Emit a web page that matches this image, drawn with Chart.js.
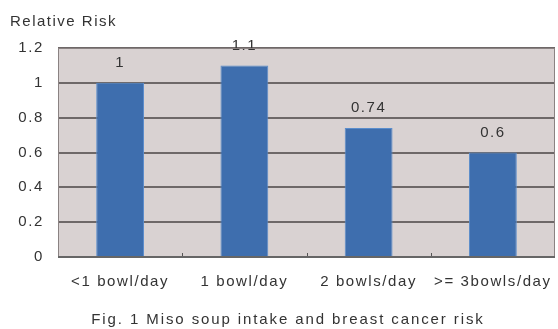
<!DOCTYPE html>
<html>
<head>
<meta charset="utf-8">
<script src="https://cdn.jsdelivr.net/npm/chart.js@4/dist/chart.umd.min.js"></script>
<style>
html,body{margin:0;padding:0;background:#fff;}
#wrap{position:relative;width:558px;height:329px;}
canvas{display:block;}
</style>
</head>
<body>
<div id="wrap"><canvas id="c" width="558" height="329"></canvas></div>
<script>
const categories = ["<1 bowl/day", "1 bowl/day", "2 bowls/day", ">= 3bowls/day"];
const relativeRisk = [1, 1.1, 0.74, 0.6];
const valueLabels = ["1", "1.1", "0.74", "0.6"];
const yAxisTitle = "Relative Risk";
const caption = "Fig. 1 Miso soup intake and breast cancer risk";

const FONT = "'Liberation Sans', Arial, sans-serif";
const TEXT = "#333333";

const decor = {
  id: 'decor',
  beforeDraw(chart) {
    const {ctx, chartArea: a} = chart;
    ctx.save();
    ctx.fillStyle = '#fff';
    ctx.fillRect(0, 0, chart.width, chart.height);
    ctx.fillStyle = '#d9d2d2';
    ctx.fillRect(a.left, a.top, a.right - a.left, a.bottom - a.top);
    ctx.restore();
    ctx.letterSpacing = '1.6px';
  },
  afterDatasetsDraw(chart) {
    const {ctx, chartArea: a} = chart;
    const meta = chart.getDatasetMeta(0);
    ctx.save();
    ctx.letterSpacing = '1.5px';
    ctx.font = "15px " + FONT;
    ctx.fillStyle = TEXT;
    ctx.textAlign = 'center';
    ctx.textBaseline = 'middle';
    meta.data.forEach((bar, i) => {
      ctx.fillText(valueLabels[i], bar.x, bar.y - 20);
    });
    // small ticks between categories on the baseline
    const xs = chart.scales.x;
    ctx.strokeStyle = '#555';
    ctx.lineWidth = 1;
    for (let i = 1; i < categories.length; i++) {
      const x = Math.round((xs.getPixelForValue(i - 1) + xs.getPixelForValue(i)) / 2) + 0.5;
      ctx.beginPath();
      ctx.moveTo(x, a.bottom);
      ctx.lineTo(x, a.bottom - 4);
      ctx.stroke();
    }
    // frame
    ctx.strokeStyle = '#8a8282';
    ctx.lineWidth = 1;
    ctx.strokeRect(a.left + 0.5, a.top + 0.5, a.right - a.left - 1, a.bottom - a.top - 1);
    ctx.strokeStyle = '#666';
    ctx.lineWidth = 2;
    ctx.beginPath();
    ctx.moveTo(a.left, a.bottom);
    ctx.lineTo(a.right, a.bottom);
    ctx.stroke();
    // titles
    ctx.letterSpacing = '1.5px';
    ctx.textAlign = 'left';
    ctx.textBaseline = 'alphabetic';
    ctx.font = "15px " + FONT;
    ctx.fillText(yAxisTitle, 10, 26);
    ctx.letterSpacing = '1.9px';
    ctx.textAlign = 'center';
    ctx.font = "15px " + FONT;
    ctx.fillText(caption, 288, 324);
    ctx.restore();
  }
};

new Chart(document.getElementById('c'), {
  type: 'bar',
  data: {
    labels: categories,
    datasets: [{
      data: relativeRisk,
      backgroundColor: '#3e6eae',
      borderColor: '#5a8dcc',
      borderWidth: 1,
      categoryPercentage: 1,
      barPercentage: 0.385
    }]
  },
  options: {
    responsive: false,
    animation: false,
    devicePixelRatio: 1,
    layout: {padding: {top: 48, right: 3, left: 0, bottom: 0}},
    plugins: {legend: {display: false}, tooltip: {enabled: false}, title: {display: false}},
    scales: {
      x: {
        grid: {display: false, drawTicks: false},
        border: {display: false},
        ticks: {color: TEXT, font: {family: FONT, size: 15}, padding: 16, maxRotation: 0, autoSkip: false},
        afterFit(s) { s.height = 72; }
      },
      y: {
        min: 0, max: 1.2,
        grid: {color: '#6e6868', lineWidth: 2, drawTicks: false},
        border: {display: false},
        ticks: {stepSize: 0.2, color: TEXT, font: {family: FONT, size: 15}, padding: 14,
          callback: v => String(Math.round(v * 10) / 10)},
        afterFit(s) { s.width = 58; }
      }
    }
  },
  plugins: [decor]
});
</script>
</body>
</html>
